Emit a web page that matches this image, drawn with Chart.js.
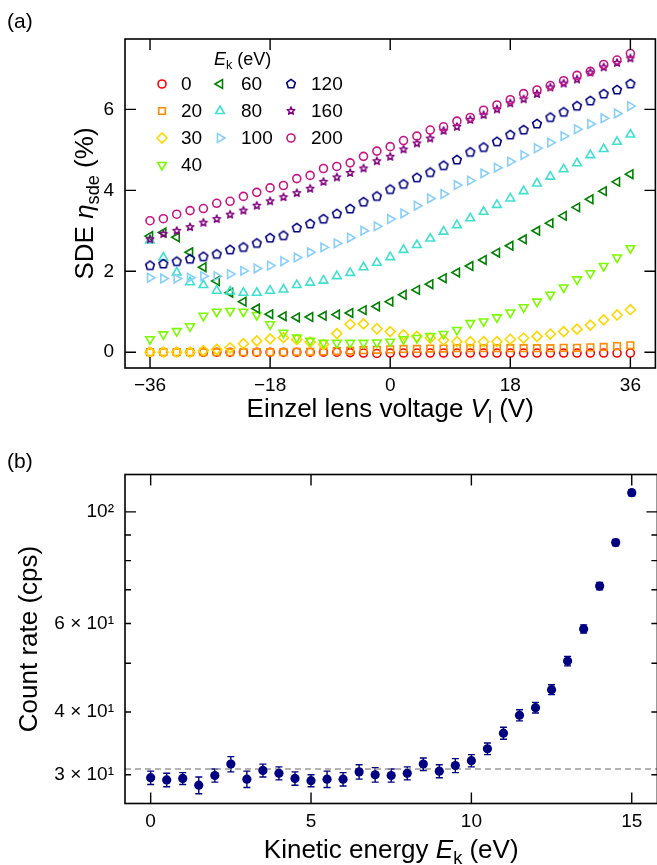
<!DOCTYPE html>
<html>
<head>
<meta charset="utf-8">
<script src="https://cdn.jsdelivr.net/npm/chart.js@4.4.1/dist/chart.umd.min.js"></script>
<style>
  html, body { margin: 0; padding: 0; background: #fff; overflow: hidden; }
  #wrap { position: relative; width: 657px; height: 865px; overflow: hidden; }
  canvas { position: absolute; left: 0; }
</style>
</head>
<body>
<div id="wrap">
  <canvas id="sdeChart" width="662" height="432" style="top:0"></canvas>
  <canvas id="rateChart" width="662" height="433" style="top:432px"></canvas>
</div>
<script>
const FONT = '"Liberation Sans", Arial, sans-serif';
Chart.defaults.font.family = FONT;
Chart.defaults.color = '#000';

// ---- panel (a): SDE vs Einzel lens voltage ----
const voltages = [-36, -34, -32, -30, -28, -26, -24, -22, -20, -18, -16, -14, -12, -10, -8, -6, -4, -2,
  0, 2, 4, 6, 8, 10, 12, 14, 16, 18, 20, 22, 24, 26, 28, 30, 32, 34, 36];

const sde0 = [0, 0, 0, 0, 0, 0, 0, 0, 0, 0, 0, 0, 0, 0, 0, -0.01, -0.02, -0.03,
  -0.02, -0.02, -0.02, -0.02, -0.02, -0.02, -0.02, -0.02, -0.02, -0.02, -0.02, -0.02, -0.02, -0.02, -0.02, -0.02, -0.02, -0.02, -0.02];
const sde20 = [0, 0, 0, 0, 0, 0, 0, 0, 0, 0, 0, 0.01, 0.01, 0.02, 0.03, 0.04, 0.05, 0.06,
  0.07, 0.08, 0.08, 0.09, 0.09, 0.10, 0.10, 0.10, 0.10, 0.10, 0.10, 0.10, 0.10, 0.11, 0.11, 0.12, 0.13, 0.15, 0.17];
const sde30 = [0, 0, 0, 0, 0.04, 0.07, 0.11, 0.21, 0.28, 0.33, 0.36, 0.31, 0.25, 0.19, 0.46, 0.69, 0.70, 0.58,
  0.51, 0.43, 0.39, 0.35, 0.30, 0.26, 0.26, 0.26, 0.26, 0.32, 0.35, 0.39, 0.45, 0.51, 0.57, 0.67, 0.80, 0.92, 1.05];
const sde40 = [0.32, 0.44, 0.52, 0.64, 0.90, 1.00, 1.02, 1.00, 0.92, 0.69, 0.48, 0.36, 0.28, 0.23, 0.23, 0.23, 0.23, 0.24,
  0.26, 0.32, 0.35, 0.40, 0.45, 0.55, 0.72, 0.76, 0.86, 0.98, 1.11, 1.25, 1.42, 1.60, 1.80, 1.95, 2.13, 2.34, 2.57];
const sde60 = [2.87, 2.96, 2.84, 2.47, 2.10, 1.76, 1.47, 1.25, 1.08, 0.94, 0.89, 0.86, 0.87, 0.90, 0.93, 0.97, 1.04, 1.13,
  1.25, 1.42, 1.54, 1.68, 1.83, 1.97, 2.13, 2.28, 2.46, 2.63, 2.79, 3.00, 3.19, 3.37, 3.58, 3.78, 3.98, 4.21, 4.40];
const sde80 = [2.76, 2.34, 1.97, 1.73, 1.66, 1.52, 1.50, 1.47, 1.47, 1.52, 1.55, 1.66, 1.72, 1.77, 1.88, 1.96, 2.10, 2.21,
  2.35, 2.53, 2.65, 2.81, 2.98, 3.14, 3.31, 3.47, 3.64, 3.80, 3.98, 4.17, 4.34, 4.52, 4.67, 4.87, 5.02, 5.20, 5.38];
const sde100 = [1.84, 1.82, 1.82, 1.84, 1.88, 1.88, 1.93, 2.01, 2.07, 2.14, 2.25, 2.34, 2.47, 2.59, 2.69, 2.83, 3.00, 3.11,
  3.29, 3.43, 3.62, 3.80, 3.91, 4.13, 4.24, 4.42, 4.56, 4.71, 4.87, 5.04, 5.18, 5.34, 5.51, 5.64, 5.78, 5.90, 6.08];
const sde120 = [2.14, 2.18, 2.24, 2.30, 2.36, 2.42, 2.53, 2.59, 2.69, 2.82, 2.88, 3.07, 3.17, 3.29, 3.42, 3.54, 3.71, 3.85,
  4.02, 4.15, 4.31, 4.44, 4.61, 4.75, 4.94, 5.06, 5.20, 5.37, 5.49, 5.64, 5.80, 5.93, 6.08, 6.21, 6.38, 6.48, 6.63];
const sde160 = [2.79, 2.92, 3.00, 3.09, 3.20, 3.29, 3.40, 3.50, 3.62, 3.73, 3.83, 3.93, 4.04, 4.21, 4.32, 4.43, 4.54, 4.72,
  4.83, 5.01, 5.16, 5.28, 5.47, 5.57, 5.74, 5.86, 6.00, 6.15, 6.25, 6.38, 6.54, 6.64, 6.74, 6.91, 7.04, 7.15, 7.26];
const sde200 = [3.25, 3.30, 3.41, 3.50, 3.55, 3.68, 3.73, 3.85, 3.95, 4.06, 4.12, 4.29, 4.37, 4.54, 4.59, 4.68, 4.84, 4.97,
  5.08, 5.23, 5.34, 5.49, 5.57, 5.71, 5.80, 5.98, 6.11, 6.24, 6.39, 6.48, 6.59, 6.71, 6.84, 6.94, 7.11, 7.22, 7.38];

const energyLabels = ['0', '20', '30', '40', '60', '80', '100', '120', '160', '200'];
const sdeValues = [sde0, sde20, sde30, sde40, sde60, sde80, sde100, sde120, sde160, sde200];
const voltTicks = [-36, -18, 0, 18, 36];
const sdeTicks = [0, 2, 4, 6];

// ---- panel (b): count rate vs kinetic energy ----
const energies = [0, 0.5, 1, 1.5, 2, 2.5, 3, 3.5, 4, 4.5, 5, 5.5, 6, 6.5, 7, 7.5, 8, 8.5, 9, 9.5,
  10, 10.5, 11, 11.5, 12, 12.5, 13, 13.5, 14, 14.5, 15];
const countRates = [29.6, 29.3, 29.5, 28.6, 29.9, 31.5, 29.4, 30.6, 30.2, 29.5, 29.2, 29.4, 29.4, 30.4, 30.0, 29.9,
  30.2, 31.5, 30.5, 31.3, 32.0, 33.8, 36.3, 39.4, 40.8, 44.3, 50.5, 58.5, 71.2, 86.9, 109.2];
const countErrors = [0.9, 0.9, 0.8, 1.1, 0.9, 1.1, 1.1, 0.9, 0.9, 0.9, 0.8, 1.1, 0.9, 1.0, 1.0, 0.9,
  0.9, 0.9, 0.9, 1.0, 0.9, 0.9, 1.0, 1.0, 1.0, 1.0, 1.1, 1.1, 1.2, 1.3, 1.5];
const darkLevel = 30.8;
const energyTicks = [0, 5, 10, 15];
const rateTicks = [30, 40, 50, 60, 70, 80, 90, 100];
const rateTickLabels = ['3 × 10¹', '4 × 10¹', '', '6 × 10¹', '', '', '', '10²'];

// small canvases for marker shapes Chart.js does not have
function makeMarker(color, n, rOut, rIn, lw) {
  const c = document.createElement('canvas');
  c.width = c.height = 14;
  const g = c.getContext('2d');
  g.strokeStyle = color;
  g.lineWidth = lw;
  g.lineJoin = 'round';
  g.beginPath();
  for (let k = 0; k < n; k++) {
    const a = -Math.PI / 2 + k * 2 * Math.PI / n;
    const r = (rIn && k % 2) ? rIn : rOut;
    const px = 7 + r * Math.cos(a), py = 7 + r * Math.sin(a);
    if (k === 0) g.moveTo(px, py); else g.lineTo(px, py);
  }
  g.closePath();
  g.stroke();
  return c;
}
const pentagonImg = makeMarker('#000080', 5, 4.6, 0, 1.6);
const starImg = makeMarker('#800080', 10, 4.0, 1.7, 1.5);

const seriesStyles = [
  { color: '#ff0000', style: 'circle', radius: 4 },
  { color: '#ff8c00', style: 'rect', radius: 4.7 },
  { color: '#ffd700', style: 'rectRot', radius: 5 },
  { color: '#7cfc00', style: 'triangle', rotation: 180, radius: 5 },
  { color: '#008000', style: 'triangle', rotation: -90, radius: 5 },
  { color: '#40e0d0', style: 'triangle', rotation: 0, radius: 5 },
  { color: '#87cefa', style: 'triangle', rotation: 90, radius: 5 },
  { color: '#000080', style: pentagonImg, radius: 5 },
  { color: '#800080', style: starImg, radius: 5 },
  { color: '#c71585', style: 'circle', radius: 4 }
];

// legend layout (columns of series indices)
const legendColumns = [[0, 1, 2, 3], [4, 5, 6], [7, 8, 9]];
const legendMarkerX = [162, 220, 291];
const legendLabelX = [181, 241, 311];
const legendRowY = [84, 111, 138, 165];

// text with italic / subscript pieces
function drawRich(ctx, parts, x, y, size, rotate, align) {
  ctx.save();
  ctx.translate(x, y);
  if (rotate) ctx.rotate(-Math.PI / 2);
  ctx.fillStyle = '#000';
  ctx.textBaseline = 'alphabetic';
  ctx.textAlign = 'left';
  const fontOf = p => (p[1] === 'i' ? 'italic ' : '') + (p[1] === 'sub' ? size * 0.7 : size) + 'px ' + FONT;
  let w = 0;
  parts.forEach(p => { ctx.font = fontOf(p); w += ctx.measureText(p[0]).width; });
  let cx = align === 'left' ? 0 : -w / 2;
  parts.forEach(p => {
    ctx.font = fontOf(p);
    ctx.fillText(p[0], cx, p[1] === 'sub' ? size * 0.24 : 0);
    cx += ctx.measureText(p[0]).width;
  });
  ctx.restore();
}

// inward ticks on all four sides plus the box
function drawFrame(chart, xMajor, yMajor, yMinor) {
  const { ctx, chartArea: a, scales: { x, y } } = chart;
  ctx.save();
  ctx.strokeStyle = '#000';
  ctx.lineWidth = 1.4;
  ctx.beginPath();
  xMajor.forEach(v => {
    const px = x.getPixelForValue(v);
    ctx.moveTo(px, a.bottom); ctx.lineTo(px, a.bottom - 11);
    ctx.moveTo(px, a.top); ctx.lineTo(px, a.top + 11);
  });
  yMajor.forEach(v => {
    const py = y.getPixelForValue(v);
    ctx.moveTo(a.left, py); ctx.lineTo(a.left + 11, py);
    ctx.moveTo(a.right, py); ctx.lineTo(a.right - 11, py);
  });
  yMinor.forEach(v => {
    const py = y.getPixelForValue(v);
    ctx.moveTo(a.left, py); ctx.lineTo(a.left + 6, py);
    ctx.moveTo(a.right, py); ctx.lineTo(a.right - 6, py);
  });
  ctx.stroke();
  ctx.lineWidth = 1.6;
  ctx.strokeRect(a.left, a.top, a.right - a.left, a.bottom - a.top);
  ctx.restore();
}

const minusFmt = v => (v < 0 ? '\u2212' + Math.abs(v) : String(v));

const sdeDecor = {
  id: 'sdeDecor',
  afterDraw(chart) {
    const ctx = chart.ctx;
    const a = chart.chartArea;
    drawFrame(chart, voltTicks, sdeTicks, []);
    drawRich(ctx, [['Einzel lens voltage ', ''], ['V', 'i'], ['l', 'sub'], [' (V)', '']], (a.left + a.right) / 2, 417, 26, false);
    drawRich(ctx, [['SDE ', ''], ['η', 'i'], ['sde', 'sub'], [' (%)', '']], 93, (a.top + a.bottom) / 2, 26, true);
    drawRich(ctx, [['(a)', '']], 7, 28, 21, false, 'left');
    // legend
    drawRich(ctx, [['E', 'i'], ['k', 'sub'], [' (eV)', '']], 214, 65, 18, false, 'left');
    legendColumns.forEach((col, c) => col.forEach((idx, r) => {
      const st = seriesStyles[idx];
      const yy = legendRowY[r];
      ctx.save();
      ctx.strokeStyle = st.color;
      ctx.fillStyle = 'rgba(0,0,0,0)';
      ctx.lineWidth = 1.6;
      Chart.helpers.drawPoint(ctx, { pointStyle: st.style, rotation: st.rotation || 0, radius: st.radius, borderWidth: 1.6 }, legendMarkerX[c], yy);
      ctx.restore();
      ctx.save();
      ctx.font = '19px ' + FONT;
      ctx.fillStyle = '#000';
      ctx.textBaseline = 'middle';
      ctx.fillText(energyLabels[idx], legendLabelX[c], yy + 1);
      ctx.restore();
    }));
  }
};

new Chart(document.getElementById('sdeChart'), {
  type: 'scatter',
  data: {
    datasets: sdeValues.map((vals, i) => ({
      label: energyLabels[i],
      data: voltages.map((v, j) => ({ x: v, y: vals[j] })),
      pointStyle: seriesStyles[i].style,
      pointRotation: seriesStyles[i].rotation || 0,
      pointRadius: seriesStyles[i].radius,
      pointBorderWidth: 1.6,
      pointBorderColor: seriesStyles[i].color,
      pointBackgroundColor: 'rgba(0,0,0,0)',
      order: sdeValues.length - i // higher energies drawn on top
    }))
  },
  options: {
    responsive: false,
    animation: false,
    devicePixelRatio: 1,
    layout: { padding: { top: 39, right: 3, left: 0, bottom: 0 } },
    plugins: { legend: { display: false }, tooltip: { enabled: false } },
    scales: {
      x: {
        type: 'linear', min: -39.75, max: 39.75,
        afterBuildTicks: s => { s.ticks = voltTicks.map(v => ({ value: v })); },
        afterFit: s => { s.height = 64; },
        grid: { display: false, drawTicks: false },
        border: { display: false },
        ticks: { font: { size: 19 }, padding: 6, maxRotation: 0, autoSkip: false, callback: minusFmt }
      },
      y: {
        type: 'linear', min: -0.39, max: 7.74,
        afterBuildTicks: s => { s.ticks = sdeTicks.map(v => ({ value: v })); },
        afterFit: s => { s.width = 125; },
        grid: { display: false, drawTicks: false },
        border: { display: false },
        ticks: { font: { size: 19 }, padding: 11, autoSkip: false }
      }
    }
  },
  plugins: [sdeDecor]
});

const rateDecor = {
  id: 'rateDecor',
  beforeDatasetsDraw(chart) {
    // error bars under the markers
    const { ctx, scales: { x, y } } = chart;
    ctx.save();
    ctx.strokeStyle = '#000080';
    ctx.lineWidth = 1.4;
    ctx.beginPath();
    energies.forEach((e, i) => {
      const px = x.getPixelForValue(e);
      const top = y.getPixelForValue(countRates[i] + countErrors[i]);
      const bot = y.getPixelForValue(countRates[i] - countErrors[i]);
      ctx.moveTo(px, top); ctx.lineTo(px, bot);
      ctx.moveTo(px - 3.5, top); ctx.lineTo(px + 3.5, top);
      ctx.moveTo(px - 3.5, bot); ctx.lineTo(px + 3.5, bot);
    });
    ctx.stroke();
    ctx.restore();
  },
  afterDraw(chart) {
    const ctx = chart.ctx;
    const a = chart.chartArea;
    drawFrame(chart, energyTicks, [100], rateTicks.filter(v => v !== 100));
    drawRich(ctx, [['Kinetic energy ', ''], ['E', 'i'], ['k', 'sub'], [' (eV)', '']], (a.left + a.right) / 2, 426, 26, false);
    drawRich(ctx, [['Count rate (cps)', '']], 37, (a.top + a.bottom) / 2, 26, true);
    drawRich(ctx, [['(b)', '']], 7, 36, 21, false, 'left');
  }
};

new Chart(document.getElementById('rateChart'), {
  type: 'scatter',
  data: {
    datasets: [
      {
        label: 'count rate',
        data: energies.map((e, i) => ({ x: e, y: countRates[i] })),
        pointRadius: 4.6,
        pointBorderWidth: 0,
        pointBackgroundColor: '#000080',
        pointBorderColor: '#000080'
      },
      {
        label: 'dark level',
        data: [{ x: -0.8, y: darkLevel }, { x: 15.8, y: darkLevel }],
        showLine: true,
        borderColor: '#9a9a9a',
        borderWidth: 1.6,
        borderDash: [6, 4],
        pointRadius: 0
      }
    ]
  },
  options: {
    responsive: false,
    animation: false,
    devicePixelRatio: 1,
    layout: { padding: { top: 42.5, right: 3, left: 0, bottom: 0 } },
    plugins: { legend: { display: false }, tooltip: { enabled: false } },
    scales: {
      x: {
        type: 'linear', min: -0.8, max: 15.8,
        afterBuildTicks: s => { s.ticks = energyTicks.map(v => ({ value: v })); },
        afterFit: s => { s.height = 61.5; },
        grid: { display: false, drawTicks: false },
        border: { display: false },
        ticks: { font: { size: 19 }, padding: 7, maxRotation: 0, autoSkip: false }
      },
      y: {
        type: 'logarithmic', min: 26.3, max: 118.7,
        afterBuildTicks: s => { s.ticks = rateTicks.map(v => ({ value: v })); },
        afterFit: s => { s.width = 125; },
        grid: { display: false, drawTicks: false },
        border: { display: false },
        ticks: {
          font: { size: 19 }, padding: 11, autoSkip: false,
          callback: (v, i) => rateTickLabels[i]
        }
      }
    }
  },
  plugins: [rateDecor]
});
</script>
</body>
</html>
